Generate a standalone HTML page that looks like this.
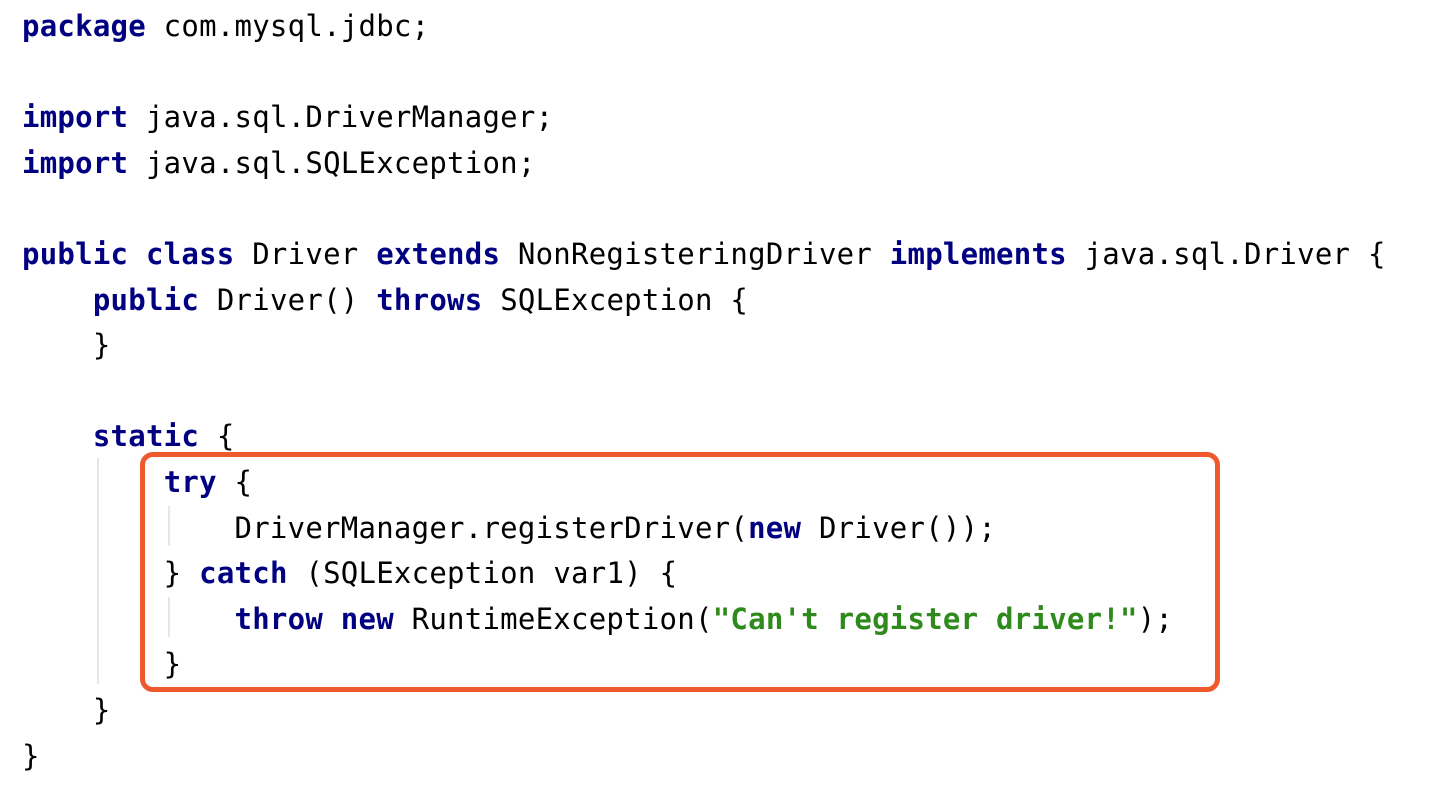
<!DOCTYPE html>
<html><head><meta charset="utf-8"><style>
html,body{margin:0;padding:0;background:#fff;width:1442px;height:802px;overflow:hidden;position:relative}
pre{position:absolute;left:22px;top:4px;margin:0;font-family:"DejaVu Sans Mono","Liberation Mono",monospace;font-size:29px;line-height:45.6px;color:#000;letter-spacing:0.25px}
b{color:#000080;font-weight:bold}
s{text-decoration:none;color:#2f8a1c;font-weight:bold}
.box{position:absolute;left:140px;top:452px;width:1070px;height:230px;border:5px solid #ef5a2c;border-radius:13px}
.g{position:absolute;width:2px;background:#e6e6e6}
</style></head><body>
<div class="g" style="left:97px;top:458px;height:226px"></div>
<div class="g" style="left:168px;top:506px;height:40px"></div>
<div class="g" style="left:168px;top:597px;height:40px"></div>
<div class="box"></div>
<pre><b>package</b> com.mysql.jdbc;

<b>import</b> java.sql.DriverManager;
<b>import</b> java.sql.SQLException;

<b>public class</b> Driver <b>extends</b> NonRegisteringDriver <b>implements</b> java.sql.Driver {
    <b>public</b> Driver() <b>throws</b> SQLException {
    }

    <b>static</b> {
        <b>try</b> {
            DriverManager.registerDriver(<b>new</b> Driver());
        } <b>catch</b> (SQLException var1) {
            <b>throw new</b> RuntimeException(<s>"Can't register driver!"</s>);
        }
    }
}</pre>
</body></html>
